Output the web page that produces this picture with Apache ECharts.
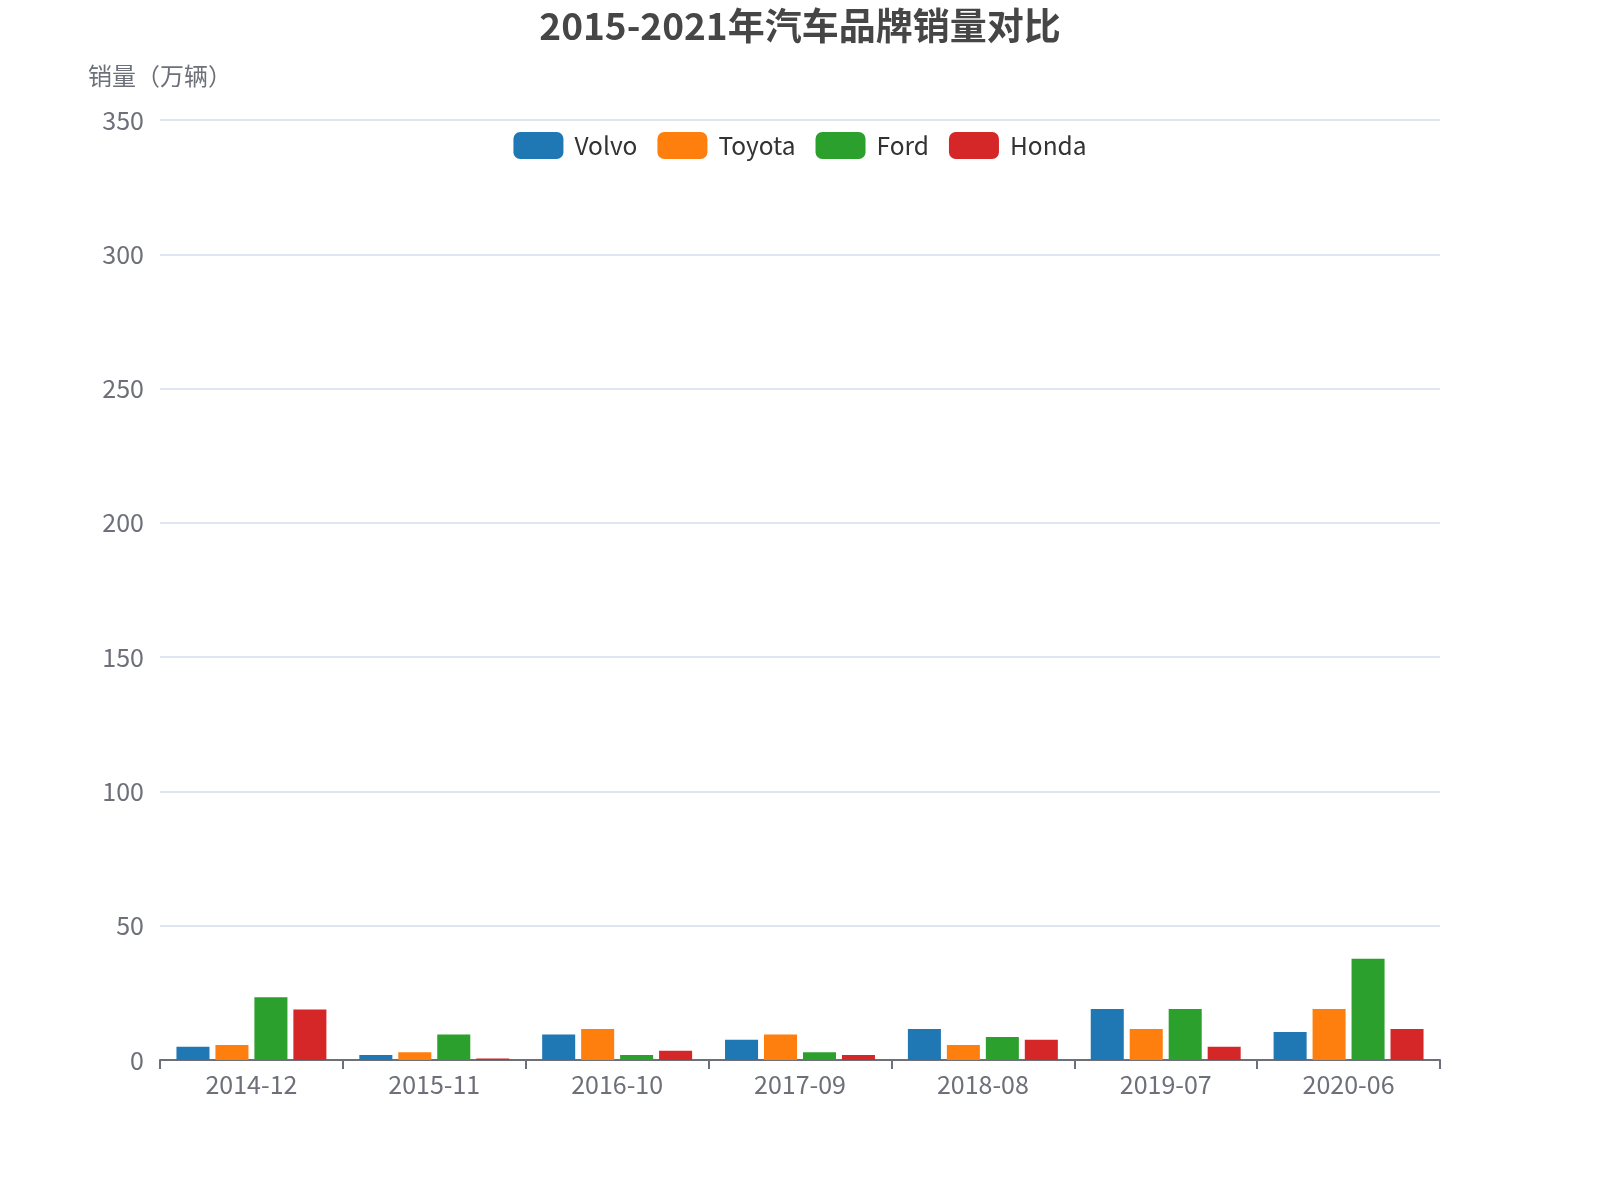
<!DOCTYPE html>
<html>
<head>
<meta charset="utf-8">
<script src="https://cdn.jsdelivr.net/npm/echarts@6/dist/echarts.min.js"></script>
<style>html,body{margin:0;padding:0;background:#fff}#c{width:1600px;height:1200px}</style>
</head>
<body>
<div id="c"></div>
<script>
const categories = ['2014-12','2015-11','2016-10','2017-09','2018-08','2019-07','2020-06'];
const volvo  = [4.9, 1.9, 9.5, 7.5, 11.5, 19, 10.4];
const toyota = [5.6, 2.9, 11.5, 9.5, 5.6, 11.5, 19];
const ford   = [23.4, 9.5, 1.9, 2.9, 8.6, 19, 37.7];
const honda  = [18.8, 0.6, 3.4, 1.9, 7.5, 4.9, 11.5];
const seriesNames = ['Volvo','Toyota','Ford','Honda'];
const colors = ['#1f77b4','#ff7f0e','#2ca02c','#d62728'];

const font = '"Noto Sans CJK SC", "Noto Sans", sans-serif';
const chart = echarts.init(document.getElementById('c'));
const data = [volvo, toyota, ford, honda];
chart.setOption({
  color: colors,
  textStyle: { fontFamily: font },
  title: {
    text: '2015-2021年汽车品牌销量对比',
    left: 'center', top: 2,
    textStyle: { fontSize: 37, fontWeight: 'bold', color: '#464646', fontFamily: font }
  },
  legend: {
    top: 127, left: 'center',
    icon: 'roundRect', itemWidth: 50, itemHeight: 27, itemGap: 20,
    textStyle: { fontSize: 24.5, color: '#333', fontFamily: font, padding: [0, 0, 0, 6] }
  },
  grid: { left: 160, right: 160, top: 120, bottom: 140 },
  xAxis: {
    type: 'category', data: categories,
    axisLine: { lineStyle: { color: '#6e7079', width: 2 } },
    axisTick: { show: true, length: 9, lineStyle: { width: 2, color: '#6e7079' } },
    axisLabel: { fontSize: 25, color: '#6e7079', margin: 12 }
  },
  yAxis: {
    type: 'value', min: 0, max: 350, interval: 50,
    name: '销量（万辆）',
    nameTextStyle: { fontSize: 24, color: '#6e7079' },
    nameGap: 32,
    axisLabel: { fontSize: 25, color: '#6e7079', margin: 16 },
    splitLine: { lineStyle: { color: '#e0e6f1', width: 2 } }
  },
  series: seriesNames.map((n, i) => ({
    name: n, type: 'bar', data: data[i],
    barGap: '18%', barCategoryGap: '18%'
  }))
});
</script>
</body>
</html>
